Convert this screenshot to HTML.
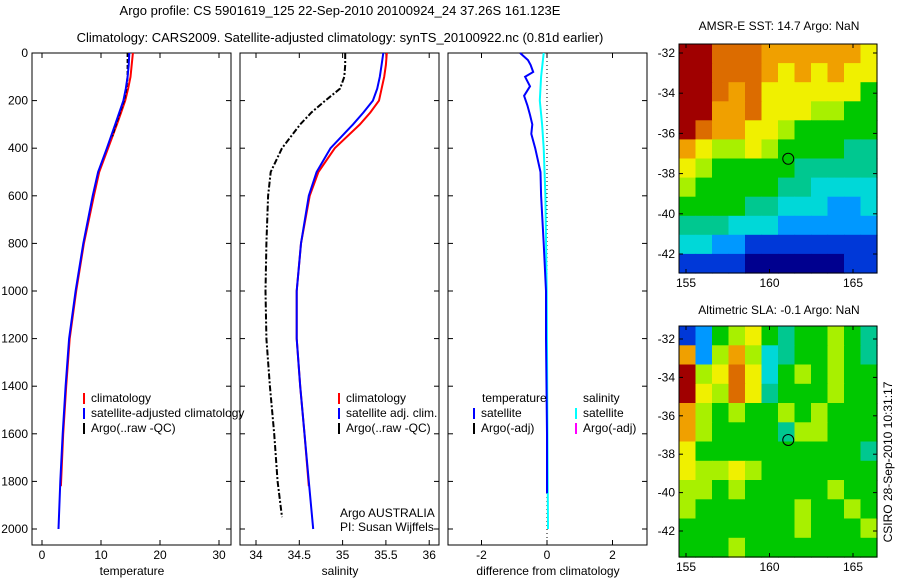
<!DOCTYPE html>
<html><head><meta charset="utf-8">
<style>
body{margin:0;background:#fff;}
svg{display:block;font-family:"Liberation Sans",sans-serif;}
</style></head>
<body>
<svg id="fig" width="900" height="580" viewBox="0 0 900 580">
<text x="340" y="15" font-size="13" text-anchor="middle">Argo profile: CS 5901619_125 22-Sep-2010 20100924_24 37.26S 161.123E</text>
<text x="340" y="42" font-size="13" text-anchor="middle">Climatology: CARS2009. Satellite-adjusted climatology: synTS_20100922.nc (0.81d earlier)</text>
<text x="779" y="30" font-size="12" text-anchor="middle">AMSR-E SST: 14.7 Argo: NaN</text>
<text x="779" y="314" font-size="12" text-anchor="middle">Altimetric SLA: -0.1 Argo: NaN</text>
<text transform="translate(892,462) rotate(-90)" font-size="12" text-anchor="middle">CSIRO 28-Sep-2010 10:31:17</text>
<g id="g"></g>
</svg>
<script>
// ---- data ----
const tempDepth=[0,50,100,150,200,250,300,400,500,600,800,1000,1200,1400,1600,1820];
const tempClim=[15.4,15.2,15.0,14.6,14.1,13.4,12.7,11.2,9.7,8.8,7.1,5.8,4.7,4.1,3.6,3.2];
const satDepth=[0,50,100,150,200,250,300,400,500,600,800,1000,1200,1400,1600,1800,2000];
const tempSat=[14.8,14.7,14.5,14.2,13.8,13.1,12.4,11.0,9.5,8.6,7.0,5.7,4.6,4.0,3.5,3.1,2.8];
const argoTDepth=[0,50,100,150,200,250,300,350];
const tempArgo=[14.5,14.5,14.5,14.3,13.9,13.2,12.5,11.9];
const salClim=[35.51,35.50,35.48,35.45,35.42,35.32,35.20,34.91,34.72,34.62,34.52,34.47,34.47,34.51,34.56,34.61];
const salSat=[35.47,35.45,35.43,35.40,35.35,35.24,35.12,34.86,34.70,34.61,34.52,34.47,34.47,34.51,34.56,34.61,34.66];
const argoSDepth=[0,50,100,150,200,250,300,400,500,600,800,1000,1200,1400,1600,1800,1950];
const salArgo=[35.03,35.03,35.02,34.97,34.80,34.64,34.51,34.30,34.17,34.14,34.12,34.11,34.12,34.16,34.21,34.25,34.30];
const diffDepth=[0,30,50,80,100,140,180,220,260,300,340,400,500,600,800,1000,1200,1600,1850];
const diffT=[-0.82,-0.58,-0.5,-0.42,-0.67,-0.52,-0.7,-0.6,-0.52,-0.45,-0.48,-0.36,-0.2,-0.18,-0.1,-0.03,-0.03,0,0];
const diffSDepth=[0,100,200,300,400,600,1000,1500,2000];
const diffS=[-0.1,-0.18,-0.22,-0.15,-0.1,-0.05,-0.01,0.01,0.03];
const tTicks=[0,10,20,30], sTicks=[34,34.5,35,35.5,36], dTicks=[-2,0,2], zTicks=[0,200,400,600,800,1000,1200,1400,1600,1800,2000];
const lonTicks=[155,160,165], latTicks=[-32,-34,-36,-38,-40,-42];
const sstGrid=[
[10,10,9,9,9,8,8,8,8,8,8,7],[10,10,9,9,9,8,7,8,7,8,7,7],[10,10,9,8,9,7,7,7,7,7,7,5],
[10,10,8,8,9,7,7,7,6,6,5,5],[10,9,8,8,7,7,6,5,5,5,5,5],[8,7,6,6,7,6,5,5,5,5,4,4],
[7,6,5,5,5,5,5,4,4,4,4,4],[6,5,5,5,5,5,4,4,3,3,3,3],[5,5,5,5,4,4,3,3,3,2,2,3],
[4,4,4,3,3,3,2,2,2,2,2,2],[3,3,2,2,1,1,1,1,1,1,1,1],[1,1,1,1,0,0,0,0,0,0,1,1]];
const slaGrid=[
[1,2,5,6,7,5,4,5,5,6,5,4],[8,2,6,8,6,3,4,5,5,6,5,4],[10,6,7,9,7,3,5,6,5,6,5,5],
[10,7,6,9,7,4,5,5,5,6,5,5],[8,6,5,6,5,5,6,5,6,5,5,5],[8,6,5,5,5,5,4,6,6,5,5,5],
[7,5,5,5,5,5,5,5,5,5,5,4],[7,6,6,7,6,5,5,5,5,5,5,5],[6,6,5,6,5,5,5,5,5,6,5,5],
[6,5,5,5,5,5,5,6,5,5,6,5],[5,5,5,5,5,5,5,6,5,5,5,6],[5,5,5,6,5,5,5,5,5,5,5,5]];
const floatLon=161.123, floatLat=-37.26;
// ---- drawing ----
const cmap=['#00008f','#0038d8','#0098ff','#00d8d8','#00c890','#00c800','#a8f000','#f0f000','#f0a000','#dc6c00','#a00000'];
const NS='http://www.w3.org/2000/svg', G=document.getElementById('g');
function el(t,a,p){const e=document.createElementNS(NS,t);for(const k in a)e.setAttribute(k,a[k]);(p||G).appendChild(e);return e;}
const yZ=d=>53+d*0.238;
function panel(x0,name){
  const r=el('rect',{x:x0,y:53,width:199,height:492,fill:'none',stroke:'#000','stroke-width':1});
  
  
}
function xticks(x0,fx,ticks,label,name){
  ticks.forEach(v=>{const x=fx(v);el('line',{x1:x,x2:x,y1:53,y2:58,stroke:'#000'});el('line',{x1:x,x2:x,y1:545,y2:540,stroke:'#000'});
   const t=el('text',{x:x,y:559,'font-size':12,'text-anchor':'middle'});t.textContent=v;
   
   });
  const t=el('text',{x:x0+100,y:575,'font-size':12,'text-anchor':'middle'});t.textContent=label;
  
  
}
function line(fx,vals,deps,col,dash,name){
  const pts=vals.map((v,i)=>fx(v).toFixed(1)+','+yZ(deps[i]).toFixed(1)).join(' ');
  const p=el('polyline',{points:pts,fill:'none',stroke:col,'stroke-width':2});
  if(dash)p.setAttribute('stroke-dasharray',dash);
  
  
}
function legend(x,y,items){items.forEach((it,i)=>{const yy=y+i*15;
  el('line',{x1:x,x2:x,y1:yy-9,y2:yy+2,stroke:it[1],'stroke-width':2});
  const t=el('text',{x:x+7,y:yy,'font-size':12});t.textContent=it[0];
  
  });}
const fT=v=>42+v*5.9, fS=v=>256+(v-34)*86.6, fD=v=>547+v*32.75;
panel(32,'temperature-panel');panel(240,'salinity-panel');panel(448,'difference-panel');
zTicks.forEach(d=>{const y=yZ(d);[[32,231],[240,439],[448,647]].forEach(p=>{el('line',{x1:p[0],x2:p[0]+5,y1:y,y2:y,stroke:'#000'});el('line',{x1:p[1],x2:p[1]-5,y1:y,y2:y,stroke:'#000'});});
  const t=el('text',{x:28,y:y+4,'font-size':12,'text-anchor':'end'});t.textContent=d;
  
  });
xticks(32,fT,tTicks,'temperature','temperature-axis-title');
xticks(240,fS,sTicks,'salinity','salinity-axis-title');
xticks(448,fD,dTicks,'difference from climatology','difference-axis-title');
line(fT,tempClim,tempDepth,'#f00',null,'temp-climatology-line');
line(fT,tempArgo,argoTDepth,'#000','4,2','temp-argo-line');
line(fT,tempSat,satDepth,'#00f',null,'temp-satellite-line');
line(fS,salClim,tempDepth,'#f00',null,'sal-climatology-line');
line(fS,salSat,satDepth,'#00f',null,'sal-satellite-line');
line(fS,salArgo,argoSDepth,'#000','6,2,2,2','sal-argo-line');
el('line',{x1:fD(0),x2:fD(0),y1:53,y2:545,stroke:'#000','stroke-dasharray':'1,3'});
line(fD,diffS,diffSDepth,'#0ff',null,'diff-salinity-line');
line(fD,diffT,diffDepth,'#00f',null,'diff-temperature-line');
legend(84,402,[['climatology','#f00'],['satellite-adjusted climatology','#00f'],['Argo(..raw -QC)','#000']]);
legend(339,402,[['climatology','#f00'],['satellite adj. clim.','#00f'],['Argo(..raw -QC)','#000']]);
let t=el('text',{x:482,y:402,'font-size':12});t.textContent='temperature';
legend(474,417,[['satellite','#00f'],['Argo(-adj)','#000']]);
t=el('text',{x:583,y:402,'font-size':12});t.textContent='salinity';
legend(576,417,[['satellite','#0ff'],['Argo(-adj)','#f0f']]);
t=el('text',{x:340,y:517,'font-size':12});t.textContent='Argo AUSTRALIA';
t=el('text',{x:340,y:531,'font-size':12});t.textContent='PI: Susan Wijffels';
function map(y0,h,grid,lat0,latStep,name){
  const x0=679,w=198,rows=grid.length,cols=grid[0].length;
  grid.forEach((row,r)=>row.forEach((c,ci)=>{
    const cell=el('rect',{x:(x0+ci*w/cols).toFixed(1),y:(y0+r*h/rows).toFixed(1),width:(w/cols+0.6).toFixed(1),height:(h/rows+0.6).toFixed(1),fill:cmap[c]});
    
    }));
  const fx=l=>686+(l-155)*16.7, fy=la=>lat0+(-32-la)*latStep;
  const b=el('rect',{x:x0,y:y0,width:w,height:h,fill:'none',stroke:'#000'});
  
  
  lonTicks.forEach(l=>{const x=fx(l);el('line',{x1:x,x2:x,y1:y0+h,y2:y0+h-4,stroke:'#000'});el('line',{x1:x,x2:x,y1:y0,y2:y0+4,stroke:'#000'});
    const tt=el('text',{x:x,y:y0+h+14,'font-size':12,'text-anchor':'middle'});tt.textContent=l;});
  latTicks.forEach(la=>{const y=fy(la);el('line',{x1:x0,x2:x0+4,y1:y,y2:y,stroke:'#000'});el('line',{x1:x0+w,x2:x0+w-4,y1:y,y2:y,stroke:'#000'});
    const tt=el('text',{x:675,y:y+4,'font-size':12,'text-anchor':'end'});tt.textContent=la;});
  const c=el('circle',{cx:fx(floatLon),cy:fy(floatLat),r:5.5,fill:'none',stroke:'#000'});
  
  
}
map(44,229,sstGrid,53,20.1,'sst-map');
map(326,231,slaGrid,339,19.2,'sla-map');
</script>
</body></html>
